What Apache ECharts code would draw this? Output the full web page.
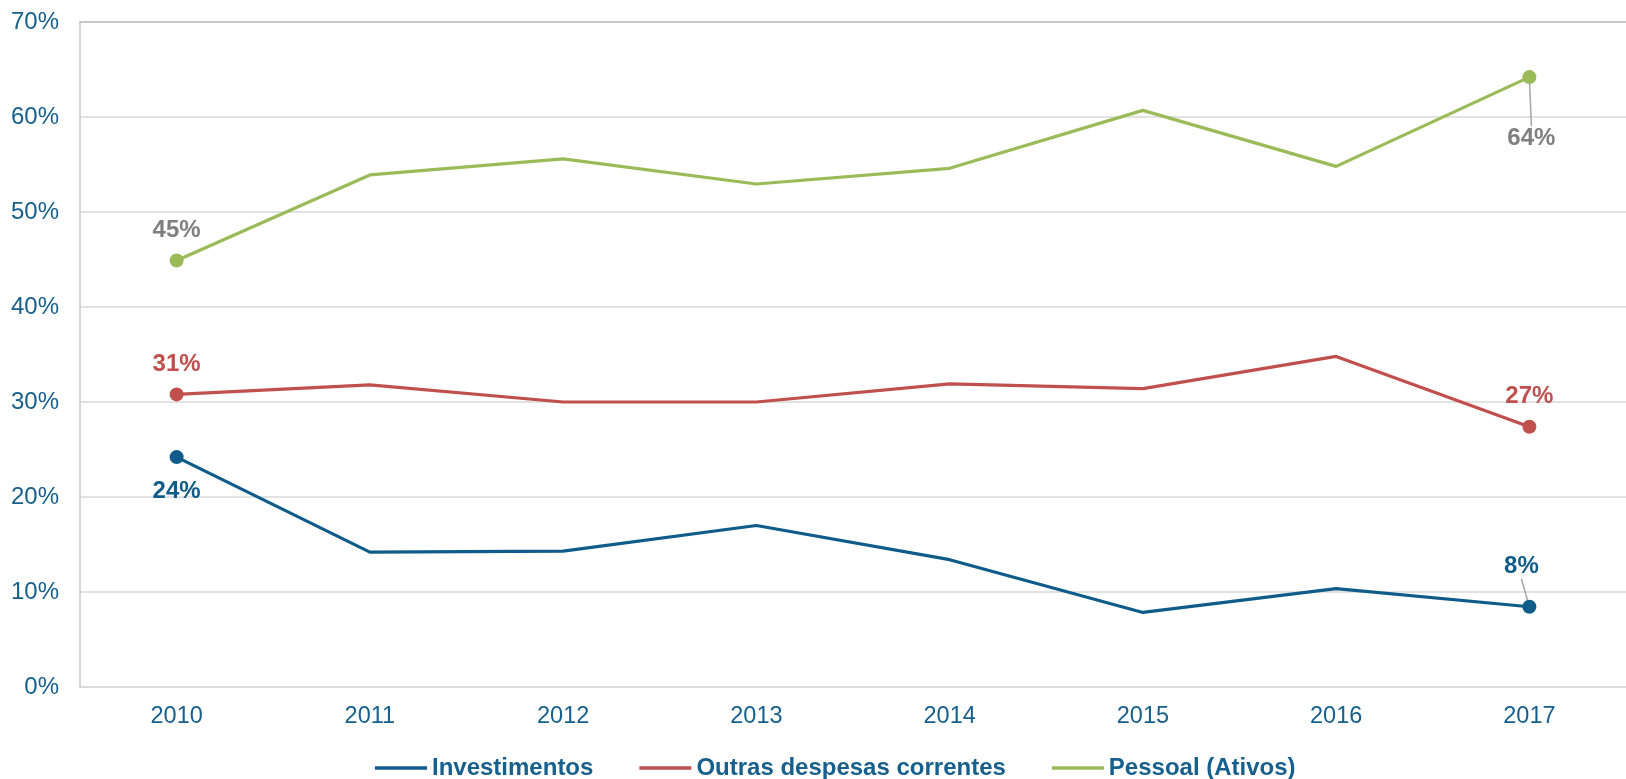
<!DOCTYPE html>
<html>
<head>
<meta charset="utf-8">
<script src="https://cdn.jsdelivr.net/npm/echarts@6/dist/echarts.min.js"></script>
<style>
html,body{margin:0;padding:0;background:#fff;}
#chart{width:1626px;height:779px;}
</style>
</head>
<body>
<div id="chart"></div>
<script>
const categories = ['2010','2011','2012','2013','2014','2015','2016','2017'];
const investimentos = [24.2, 14.2, 14.3, 17.0, 13.4, 7.85, 10.35, 8.45];
const outrasDespesas = [30.8, 31.8, 30.0, 30.0, 31.9, 31.4, 34.8, 27.4];
const pessoal = [44.9, 53.9, 55.6, 52.95, 54.6, 60.7, 54.8, 64.2];
const yTicks = [0, 10, 20, 30, 40, 50, 60, 70];
const seriesNames = ['Investimentos', 'Outras despesas correntes', 'Pessoal (Ativos)'];

const FONT = '"Liberation Sans", Arial, sans-serif';
const TEXT_BLUE = '#17608d';
const BLUE = '#0f5c8a', RED = '#c0504d', GREEN = '#9bbb59', GRAY_LBL = '#7f7f7f';

function pct(p){ return Math.round(p.value) + '%'; }

function buildData(values, firstLabel, lastLabel, lastLeader){
  return values.map((v, i) => {
    if (i === 0) return {value: v, symbolSize: 14, label: firstLabel, labelLine: {show: false}};
    if (i === values.length - 1) return {value: v, symbolSize: 14, label: lastLabel, labelLine: {show: !!lastLeader}};
    return {value: v, symbolSize: 0, label: {show: false}, labelLine: {show: false}};
  });
}

function lbl(color, extra){
  return Object.assign({show: true, formatter: pct, color: color, fontFamily: FONT,
    fontWeight: 'bold', fontSize: 24}, extra);
}

const chart = echarts.init(document.getElementById('chart'));
chart.setOption({
  animation: false,
  backgroundColor: '#fff',
  grid: {left: 80, top: 22, width: 1562, height: 665, containLabel: false},
  legend: {
    data: seriesNames,
    left: 370, top: 751,
    icon: 'rect', itemWidth: 52, itemHeight: 3.5, itemGap: 46,
    textStyle: {color: TEXT_BLUE, fontFamily: FONT, fontWeight: 'bold', fontSize: 24, padding: [0,0,0,0]}
  },
  xAxis: [{
    type: 'category', data: categories, boundaryGap: true,
    axisLine: {show: true, lineStyle: {color: '#d9d9d9', width: 1.5}},
    axisTick: {show: false},
    axisLabel: {color: TEXT_BLUE, fontFamily: FONT, fontSize: 23.5, margin: 18}
  }, {
    type: 'category', data: categories, position: 'top', boundaryGap: true,
    axisLine: {show: true, lineStyle: {color: '#c0c0c0', width: 1.5}},
    axisTick: {show: false}, axisLabel: {show: false}
  }],
  yAxis: {
    type: 'value', min: yTicks[0], max: yTicks[yTicks.length-1], interval: 10,
    axisLine: {show: true, lineStyle: {color: '#c8c8c8', width: 1.5}},
    axisTick: {show: false},
    axisLabel: {color: TEXT_BLUE, fontFamily: FONT, fontSize: 24, margin: 21, formatter: '{value}%'},
    splitLine: {show: true, lineStyle: {color: '#d9d9d9', width: 1.5}}
  },
  series: [
    {
      name: seriesNames[0], type: 'line', symbol: 'circle',
      lineStyle: {color: BLUE, width: 3.2}, itemStyle: {color: BLUE},
      data: buildData(investimentos,
        lbl(BLUE, {position: 'bottom', distance: 15}),
        lbl(BLUE, {position: 'inside'}), true),
      labelLayout: function(params){
        if (params.dataIndex === investimentos.length - 1) return {dx: -8, dy: -40};
        return {};
      },
      labelLine: {show: false, lineStyle: {color: '#a6a6a6', width: 1.5}, length2: 0},
      z: 3
    },
    {
      name: seriesNames[1], type: 'line', symbol: 'circle',
      lineStyle: {color: RED, width: 3.2}, itemStyle: {color: RED},
      data: buildData(outrasDespesas,
        lbl(RED, {position: 'top', distance: 11}),
        lbl(RED, {position: 'top', distance: 11}), false),
      z: 3
    },
    {
      name: seriesNames[2], type: 'line', symbol: 'circle',
      lineStyle: {color: GREEN, width: 3.2}, itemStyle: {color: GREEN},
      data: buildData(pessoal,
        lbl(GRAY_LBL, {position: 'top', distance: 11}),
        lbl(GRAY_LBL, {position: 'inside'}), true),
      labelLayout: function(params){
        if (params.dataIndex === pessoal.length - 1) return {dx: 2, dy: 61};
        return {};
      },
      labelLine: {show: false, lineStyle: {color: '#a6a6a6', width: 1.5}, length2: 0},
      z: 3
    }
  ]
});
</script>
</body>
</html>
